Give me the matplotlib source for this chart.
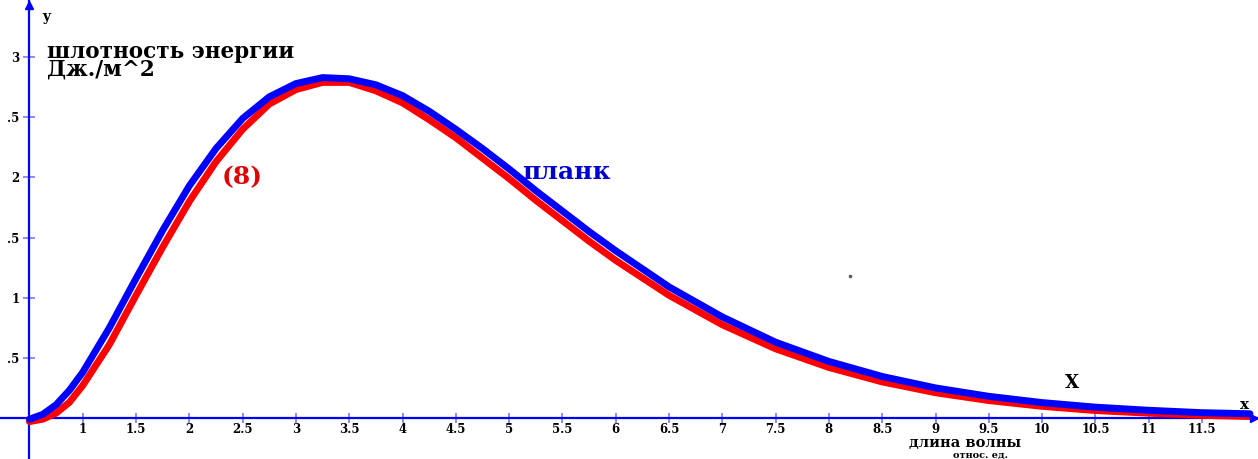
# -*- coding: utf-8 -*-

import matplotlib.pyplot as plt

# 0. 数据
x_planck = [0.5, 0.625, 0.75, 0.875, 1.0, 1.25, 1.5, 1.75, 2.0, 2.25, 2.5,
            2.75, 3.0, 3.25, 3.5, 3.75, 4.0, 4.25, 4.5, 4.75, 5.0, 5.25,
            5.5, 5.75, 6.0, 6.5, 7.0, 7.5, 8.0, 8.5, 9.0, 9.5, 10.0, 10.5,
            11.0, 11.5, 11.95]
y_planck = [-0.01, 0.03, 0.11, 0.23, 0.38, 0.75, 1.16, 1.56, 1.93, 2.24, 2.49,
            2.67, 2.78, 2.83, 2.82, 2.77, 2.68, 2.55, 2.40, 2.24, 2.07, 1.89,
            1.72, 1.55, 1.39, 1.09, 0.84, 0.63, 0.47, 0.345, 0.25, 0.18, 0.128,
            0.09, 0.064, 0.044, 0.035]

x_eq8 = [0.5, 0.625, 0.75, 0.875, 1.0, 1.25, 1.5, 1.75, 2.0, 2.25, 2.5,
         2.75, 3.0, 3.25, 3.5, 3.75, 4.0, 4.25, 4.5, 4.75, 5.0, 5.25,
         5.5, 5.75, 6.0, 6.5, 7.0, 7.5, 8.0, 8.5, 9.0, 9.5, 10.0, 10.5,
         11.0, 11.5, 11.95]
y_eq8 = [-0.03, -0.01, 0.04, 0.13, 0.27, 0.61, 1.02, 1.42, 1.80, 2.13, 2.40,
         2.61, 2.73, 2.79, 2.79, 2.72, 2.62, 2.48, 2.33, 2.16, 1.99, 1.81,
         1.64, 1.47, 1.31, 1.02, 0.775, 0.575, 0.42, 0.30, 0.21, 0.145, 0.097,
         0.062, 0.04, 0.022, 0.012]

xticks = [1, 1.5, 2, 2.5, 3, 3.5, 4, 4.5, 5, 5.5, 6, 6.5, 7, 7.5, 8, 8.5,
          9, 9.5, 10, 10.5, 11, 11.5]
xtick_labels = ["1", "1.5", "2", "2.5", "3", "3.5", "4", "4.5", "5", "5.5",
                "6", "6.5", "7", "7.5", "8", "8.5", "9", "9.5", "10", "10.5",
                "11", "11.5"]
yticks = [0.5, 1, 1.5, 2, 2.5, 3]
ytick_labels = [".5", "1", ".5", "2", ".5", "3"]

# 样式参数
CONFIG = {
    "figsize": (12.58, 4.59),
    "dpi": 100,
    "xlim": (0.224, 12.025),
    "ylim": (-0.341, 3.475),
    "y_axis_at": 0.5,
    "axis_color": "#0000ff",
    "tick_color": "#7878ff",
    "color_planck": "#0000ff",
    "color_eq8": "#ff0000",
    "lw": 5.0,
    "font": ["DejaVu Serif"],
}

plt.rcParams["font.family"] = CONFIG["font"]
plt.rcParams["font.weight"] = "bold"


# 1. 绘图
def make_plot(cfg: dict):
    fig = plt.figure(figsize=cfg["figsize"], dpi=cfg["dpi"])
    ax = fig.add_axes([0, 0, 1, 1])
    ax.set_xlim(*cfg["xlim"])
    ax.set_ylim(*cfg["ylim"])

    # 曲线
    ax.plot(x_eq8, y_eq8, color=cfg["color_eq8"], lw=cfg["lw"],
            solid_capstyle="round", solid_joinstyle="round", zorder=3)
    ax.plot(x_planck, y_planck, color=cfg["color_planck"], lw=cfg["lw"],
            solid_capstyle="round", solid_joinstyle="round", zorder=4)

    # 坐标轴（蓝色，带箭头）
    for side in ["top", "right"]:
        ax.spines[side].set_visible(False)
    ax.spines["left"].set_position(("data", cfg["y_axis_at"]))
    ax.spines["bottom"].set_position(("data", 0))
    for side in ["left", "bottom"]:
        ax.spines[side].set_color(cfg["axis_color"])
        ax.spines[side].set_linewidth(1.6)
        ax.spines[side].set_zorder(2)
    ax.plot(cfg["y_axis_at"], 3.43, "^", color=cfg["axis_color"],
            markersize=6, clip_on=False, zorder=5)
    ax.plot(11.99, 0, ">", color=cfg["axis_color"],
            markersize=6, clip_on=False, zorder=5)

    ax.set_xticks(xticks, xtick_labels)
    ax.set_yticks(yticks, ytick_labels)
    ax.tick_params(axis="x", direction="inout", length=6.5, width=1.2,
                   color=cfg["tick_color"], pad=0.5, labelsize=8.5)
    ax.tick_params(axis="y", direction="inout", length=8.5, width=1.2,
                   color=cfg["tick_color"], pad=3, labelsize=8.5)
    for lab in ax.get_xticklabels() + ax.get_yticklabels():
        lab.set_fontweight("bold")

    # 文字标注
    ax.text(0.618, 3.33, "y", fontsize=10, fontweight="bold",
            ha="left", va="center")
    ax.text(0.665, 3.134, "шлотность энергии\nДж./м^2", fontsize=15.5,
            fontweight="bold", ha="left", va="top", linespacing=0.72)
    ax.text(2.494, 2.003, "(8)", fontsize=18, fontweight="bold",
            color="#e00000", ha="center", va="center")
    ax.text(5.121, 2.045, "планк", fontsize=18, fontweight="bold",
            color="#0000d0", ha="left", va="center")
    ax.text(10.28, 0.291, "X", fontsize=13, fontweight="bold",
            ha="center", va="center")
    ax.text(11.90, 0.108, "x", fontsize=11, fontweight="bold",
            ha="center", va="center")
    ax.text(9.277, -0.205, "длина волны", fontsize=10.5, fontweight="bold",
            ha="center", va="center")
    ax.text(9.42, -0.31, "относ. ед.", fontsize=7, fontweight="bold",
            ha="center", va="center")
    ax.plot(8.198, 1.18, "s", color="#606060", markersize=1.5)

    fig.savefig("out.png", dpi=cfg["dpi"])


# 2. 运行
if __name__ == "__main__":
    make_plot(CONFIG)
